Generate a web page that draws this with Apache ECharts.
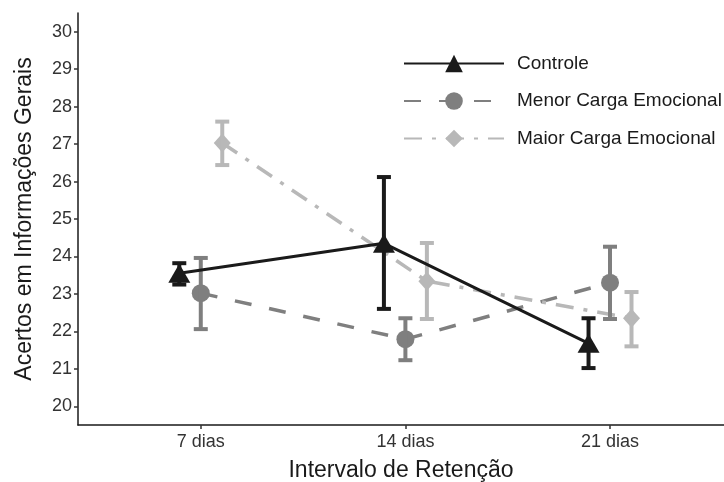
<!DOCTYPE html>
<html><head><meta charset="utf-8">
<script src="https://cdn.jsdelivr.net/npm/echarts@6/dist/echarts.min.js"></script>
<style>html,body{margin:0;padding:0;background:#fff}#c{width:724px;height:482px}</style>
</head><body><div id="c"></div>
<script>
var categories = ['7 dias', '14 dias', '21 dias'];
var seriesNames = ['Controle', 'Menor Carga Emocional', 'Maior Carga Emocional'];
var controleMean = [23.55, 24.35, 21.68];
var controleLow  = [23.25, 22.6, 21.02];
var controleHigh = [23.82, 26.12, 22.35];
var menorMean = [23.02, 21.79, 23.3];
var menorLow  = [22.06, 21.23, 22.33];
var menorHigh = [23.96, 22.35, 24.26];
var maiorMean = [27.03, 23.34, 22.35];
var maiorLow  = [26.44, 22.33, 21.6];
var maiorHigh = [27.6, 24.36, 23.05];
var yTicks = [20, 21, 22, 23, 24, 25, 26, 27, 28, 29, 30];

var dodge = [-0.105, 0, 0.105];
var colors = ['#1a1a1a', '#7f7f7f', '#b8b8b8'];
var means = [controleMean, menorMean, maiorMean];
var lows = [controleLow, menorLow, maiorLow];
var highs = [controleHigh, menorHigh, maiorHigh];
var symbols = ['triangle', 'circle', 'diamond'];
var symSizes = [[22, 19], 18, [17, 19]];
var lineTypes = ['solid', [17, 18], [18, 10, 4, 10]];
var lineWidths = [3, 3.5, 3.5];

var chart = echarts.init(document.getElementById('c'), null, {renderer: 'canvas'});
var series = [];
for (var s = 0; s < 3; s++) {
  (function(s){
    var ebData = categories.map(function(c, i){ return [i + 1 + dodge[s], lows[s][i], highs[s][i]]; });
    series.push({
      type: 'custom', name: seriesNames[s] + '_eb', z: 3,
      data: ebData,
      encode: {x: 0, y: [1, 2]},
      renderItem: function(params, api){
        var x = api.value(0);
        var lo = api.coord([x, api.value(1)]);
        var hi = api.coord([x, api.value(2)]);
        var hw = 7;
        var st = {stroke: colors[s], lineWidth: 4};
        return {type: 'group', children: [
          {type: 'line', shape: {x1: lo[0], y1: lo[1], x2: hi[0], y2: hi[1]}, style: st},
          {type: 'line', shape: {x1: lo[0]-hw, y1: lo[1], x2: lo[0]+hw, y2: lo[1]}, style: st},
          {type: 'line', shape: {x1: hi[0]-hw, y1: hi[1], x2: hi[0]+hw, y2: hi[1]}, style: st}
        ]};
      },
      silent: true
    });
    series.push({
      type: 'line', name: seriesNames[s], z: 2 + (s === 0 ? 2 : 0),
      data: categories.map(function(c, i){ return [i + 1 + dodge[s], means[s][i]]; }),
      symbol: symbols[s], symbolSize: symSizes[s], showAllSymbol: true,
      lineStyle: {color: colors[s], width: lineWidths[s], type: lineTypes[s]},
      itemStyle: {color: colors[s], borderWidth: 0, opacity: 1},
      animation: false
    });
  })(s);
}

chart.setOption({
  animation: false,
  backgroundColor: '#fff',
  textStyle: {fontFamily: 'Liberation Sans, Arial, sans-serif'},
  grid: {left: 78, right: 0, top: 13, bottom: 57, containLabel: false, outerBoundsMode: 'none'},
  legend: {
    data: seriesNames.map(function(n, i){ return {name: n, itemStyle: {color: colors[i]}}; }),
    orient: 'vertical', left: 398, top: 49, itemWidth: 100, itemHeight: 22, itemGap: 18.5,
    textStyle: {fontSize: 19, color: '#1a1a1a', padding: [0, 0, 0, 8]},
    selectedMode: false
  },
  xAxis: {
    type: 'value', min: 0.4, max: 3.557,
    name: 'Intervalo de Retenção', nameLocation: 'middle', nameGap: 34,
    nameTextStyle: {fontSize: 23, color: '#1a1a1a'},
    axisLine: {show: true, lineStyle: {color: '#1a1a1a', width: 1.5}},
    axisTick: {show: true, length: 4, customValues: [1, 2, 3], lineStyle: {color: '#333', width: 1.5}},
    axisLabel: {customValues: [1, 2, 3], fontSize: 18, color: '#333', margin: 8,
      formatter: function(v){ return categories[Math.round(v) - 1] || ''; }},
    splitLine: {show: false}
  },
  yAxis: {
    type: 'value', min: 19.5, max: 30.5,
    name: 'Acertos em Informações Gerais', nameLocation: 'middle', nameGap: 42,
    nameTextStyle: {fontSize: 23, color: '#1a1a1a'},
    axisLine: {show: true, lineStyle: {color: '#1a1a1a', width: 1.5}},
    axisTick: {show: true, length: 4, customValues: yTicks, lineStyle: {color: '#333', width: 1.5}},
    axisLabel: {customValues: yTicks, fontSize: 18, color: '#333', margin: 6},
    splitLine: {show: false}
  },
  series: series
});
</script></body></html>
